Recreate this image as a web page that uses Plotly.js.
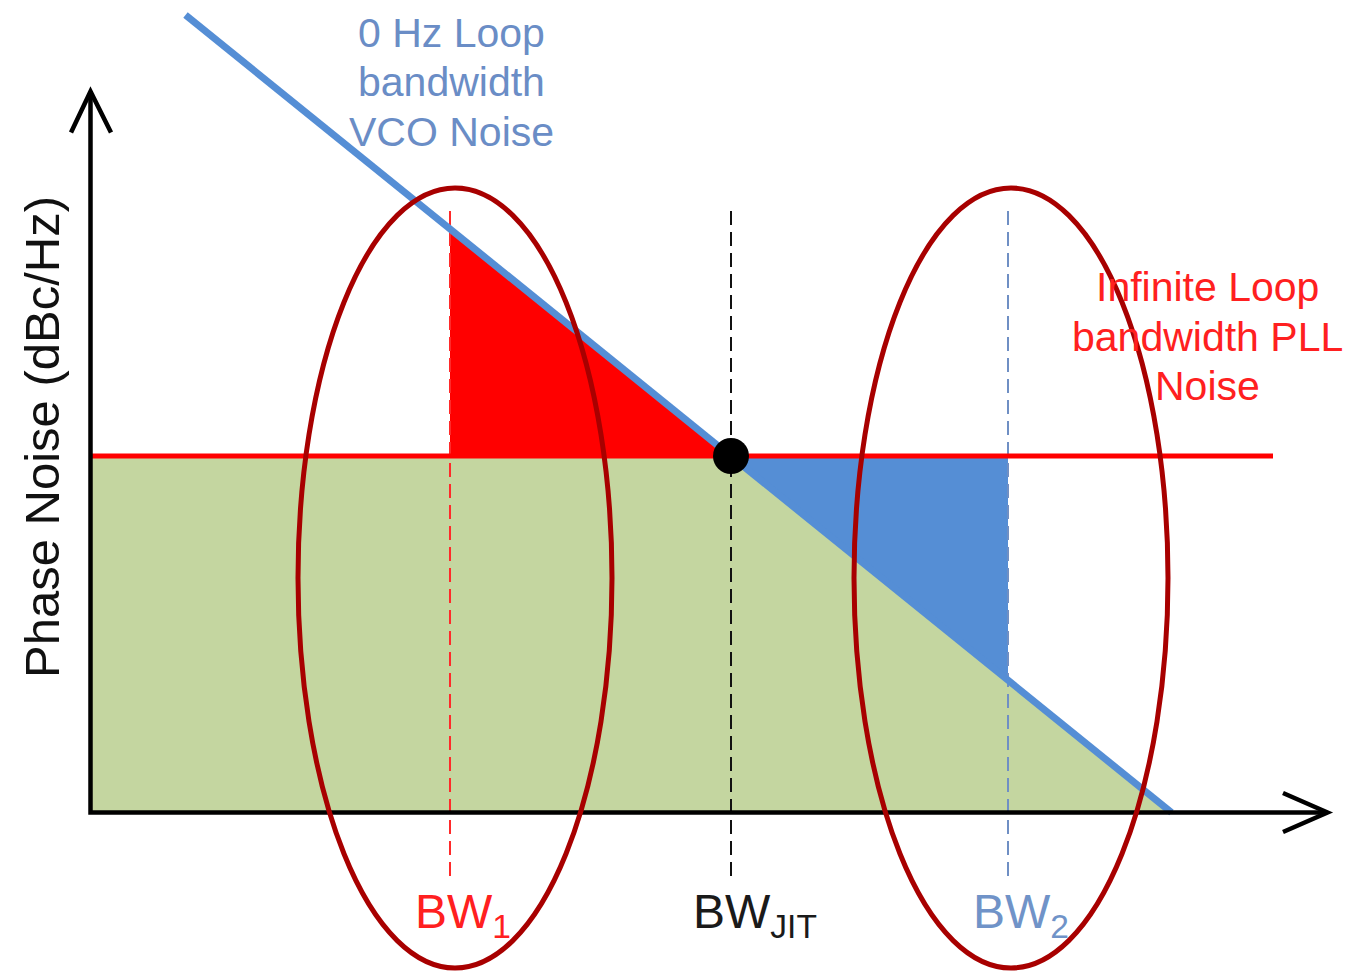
<!DOCTYPE html>
<html><head><meta charset="utf-8">
<script src="https://cdn.plot.ly/plotly-3.0.1.min.js"></script>
<style>html,body{margin:0;padding:0;background:#fff;overflow:hidden}#chart{width:1350px;height:972px}</style>
</head><body><div id="chart"></div>
<script>
// ---- Diagram data (origin = axis corner; x: offset frequency, y: phase noise, arbitrary units) ----
const vcoNoiseX = [95, 1081];          // 0 Hz loop bandwidth VCO noise (falling line)
const vcoNoiseY = [797.5, 0];
const pllNoiseX = [0, 1182.5];         // infinite loop bandwidth PLL noise (flat)
const pllNoiseY = [356.5, 356.5];
const bwLabels = ['BW<sub>1</sub>', 'BW<sub>JIT</sub>', 'BW<sub>2</sub>'];
const bwX = [359.5, 640.5, 917.5];     // BW1, BW_JIT, BW2
const bwMarkerY = [601.5, -67.5];      // extent of dashed bandwidth markers
const vcoLabel = ['0 Hz Loop', 'bandwidth', 'VCO Noise'];
const pllLabel = ['Infinite Loop', 'bandwidth PLL', 'Noise'];
const yAxisLabel = 'Phase Noise (dBc/Hz)';

// ---- helpers ----
function vcoAt(x){
  const t = (x - vcoNoiseX[0]) / (vcoNoiseX[1] - vcoNoiseX[0]);
  return vcoNoiseY[0] + t * (vcoNoiseY[1] - vcoNoiseY[0]);
}
const pll = pllNoiseY[0];
const xZero = vcoNoiseX[1];
const FONT = 'Liberation Sans, Arial, sans-serif';
const BLUE = '#558ED5', RED = '#FF0000', GREEN = '#C4D6A0', ELL = '#A80000';

const traces = [
  // green area: total noise under both curves
  {x:[0,0,bwX[1],xZero,0], y:[0,pll,pll,0,0], mode:'none', fill:'toself', fillcolor:GREEN, hoverinfo:'skip'},
  // red area
  {x:[bwX[0],bwX[0],bwX[1],bwX[0]], y:[pll,vcoAt(bwX[0]),pll,pll], mode:'none', fill:'toself', fillcolor:RED, hoverinfo:'skip'},
  // blue area
  {x:[bwX[1],bwX[2],bwX[2],bwX[1]], y:[pll,pll,vcoAt(bwX[2]),pll], mode:'none', fill:'toself', fillcolor:BLUE, hoverinfo:'skip'},
  // dashed bandwidth markers
  {x:[bwX[0],bwX[0]], y:bwMarkerY, mode:'lines', line:{color:'#FF2A2A', width:2, dash:'14px,7px'}},
  {x:[bwX[1],bwX[1]], y:bwMarkerY, mode:'lines', line:{color:'#111111', width:2, dash:'14px,7px'}},
  {x:[bwX[2],bwX[2]], y:bwMarkerY, mode:'lines', line:{color:'#6F8FC4', width:2, dash:'14px,7px'}},
  // PLL noise line
  {x:pllNoiseX, y:pllNoiseY, mode:'lines', line:{color:RED, width:5}},
  // VCO noise line
  {x:vcoNoiseX, y:vcoNoiseY, mode:'lines', line:{color:BLUE, width:7}},
  // intersection dot
  {x:[bwX[1]], y:[pll], mode:'markers', marker:{color:'#000', size:36}}
];

const axisLine = {color:'#000', width:4.5};
const shapes = [
  {type:'path', xref:'x', yref:'y', path:'M 0 720 L 0 0 L 1236 0', line:axisLine, layer:'above'},
  {type:'path', xref:'x', yref:'y', path:'M -19.5 680 L 0 721 L 20.5 680', line:axisLine, layer:'above'},
  {type:'path', xref:'x', yref:'y', path:'M 1192.5 19.5 L 1237 0 L 1192.5 -19.5', line:axisLine, layer:'above'},
  {type:'circle', xref:'x', yref:'y', x0:207.5, x1:521.5, y0:-155.5, y1:624.5, line:{color:ELL, width:5}, layer:'above'},
  {type:'circle', xref:'x', yref:'y', x0:763.5, x1:1077.5, y0:-155.5, y1:624.5, line:{color:ELL, width:5}, layer:'above'}
];

const annotations = [];
const vcoY = [780, 730.5, 680.5];
vcoLabel.forEach((t,i)=>annotations.push({x:360.5, y:vcoY[i], xref:'x', yref:'y', text:t, showarrow:false,
  xanchor:'center', yanchor:'middle', font:{family:FONT, size:41, color:'#6A8DC6'}}));
const pllY = [525.5, 475.5, 426.5];
pllLabel.forEach((t,i)=>annotations.push({x:1116.5, y:pllY[i], xref:'x', yref:'y', text:t, showarrow:false,
  xanchor:'center', yanchor:'middle', font:{family:FONT, size:41, color:'#FF2020'}}));
annotations.push({x:-49, y:375, xref:'x', yref:'y', text:yAxisLabel, textangle:-90, showarrow:false,
  xanchor:'center', yanchor:'middle', font:{family:FONT, size:49, color:'#111'}});
const bwColors = ['#FF2020', '#1A1A1A', '#7093C8'];
const bwLeft = [322.5, 600.5, 880.5];
bwLabels.forEach((t,i)=>annotations.push({x:bwLeft[i], y:-102, xref:'x', yref:'y', text:t, showarrow:false,
  xanchor:'left', yanchor:'middle', font:{family:FONT, size:48, color:bwColors[i]}}));

const layout = {
  width:1350, height:972, margin:{l:0,r:0,t:0,b:0},
  paper_bgcolor:'#fff', plot_bgcolor:'#fff', showlegend:false, hovermode:false,
  xaxis:{range:[-90.5,1259.5], visible:false, fixedrange:true},
  yaxis:{range:[-159.5,812.5], visible:false, fixedrange:true},
  shapes:shapes, annotations:annotations
};
Plotly.newPlot('chart', traces, layout, {displayModeBar:false, staticPlot:true});
</script></body></html>
